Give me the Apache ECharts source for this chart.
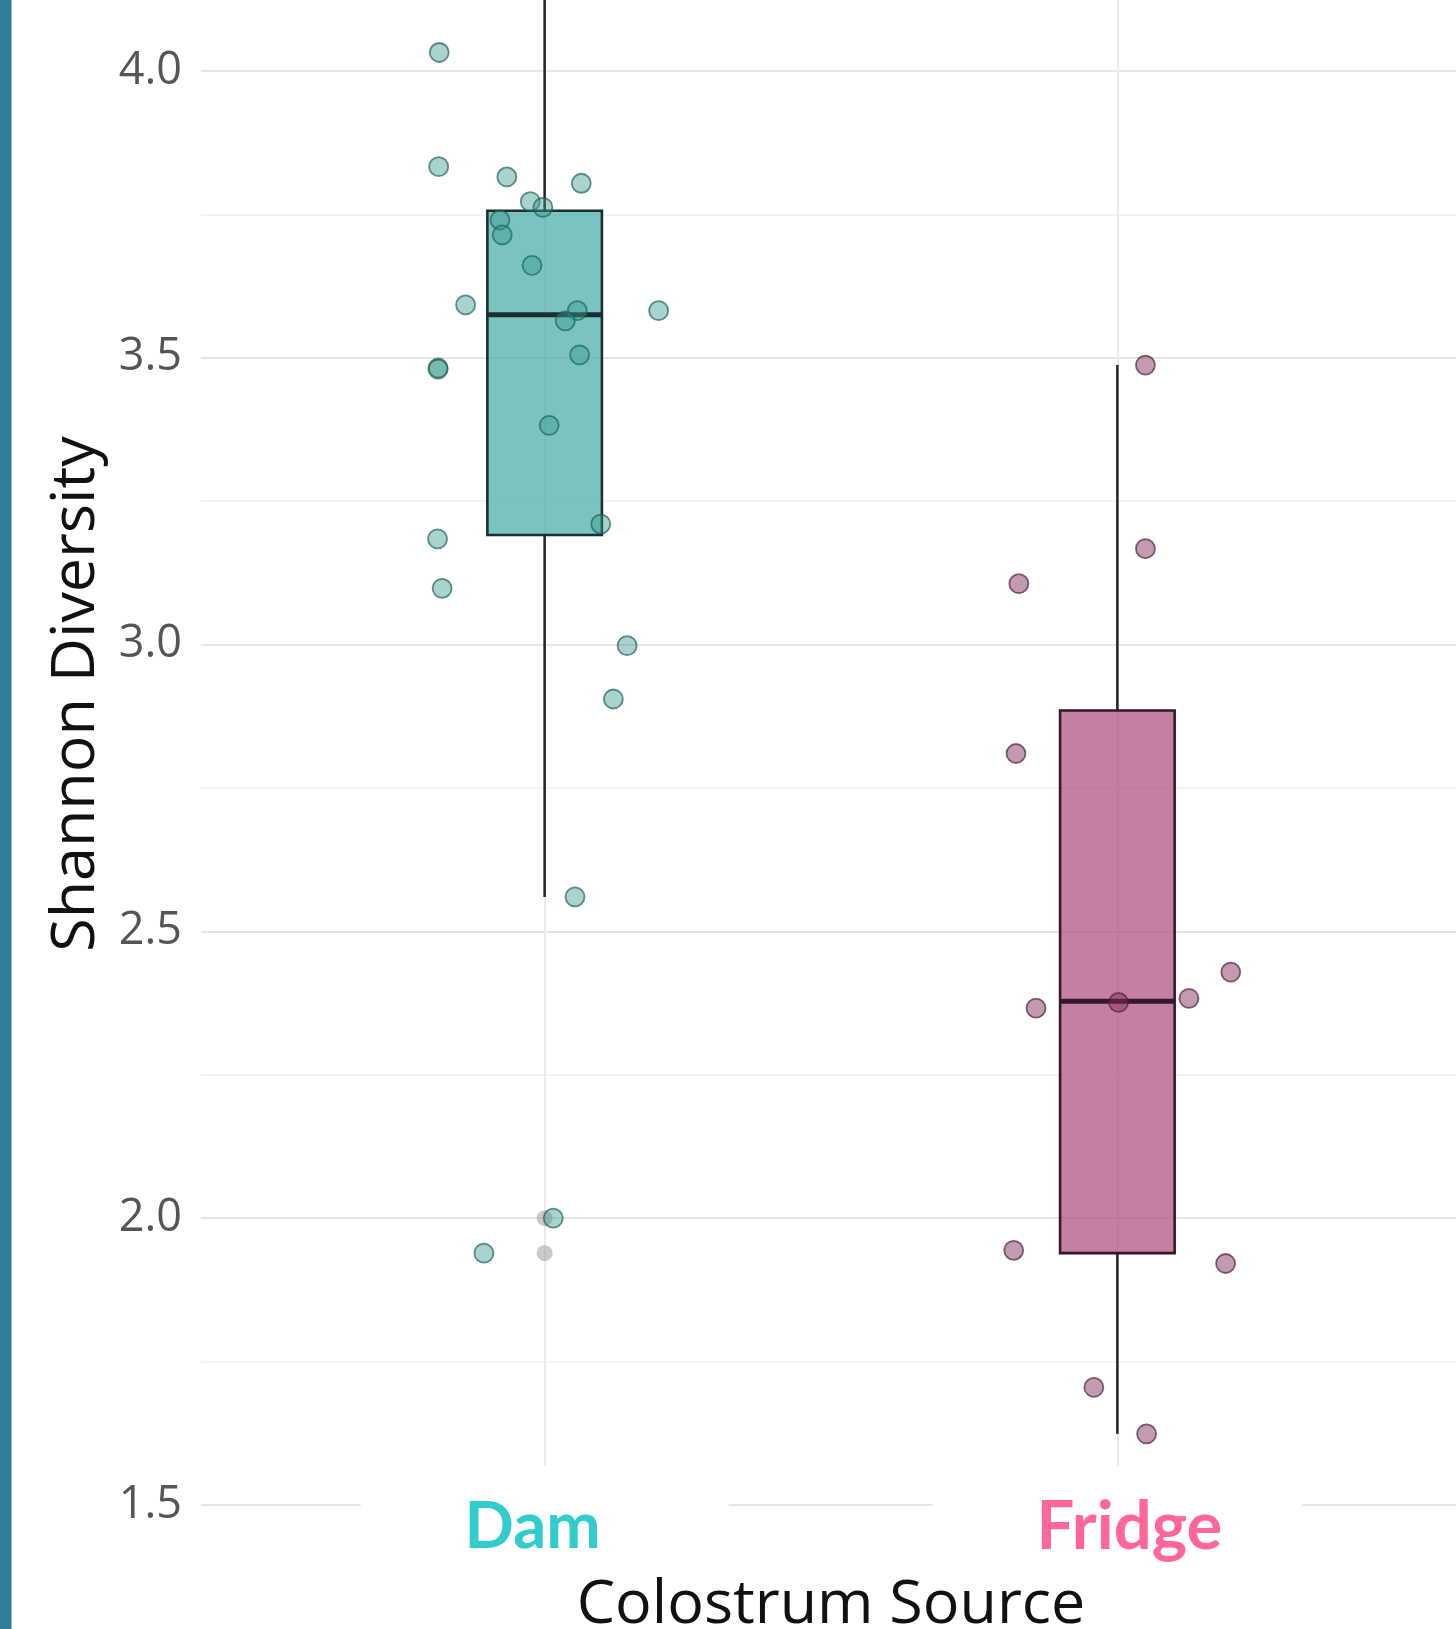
<!DOCTYPE html>
<html>
<head>
<meta charset="utf-8">
<script src="https://cdn.jsdelivr.net/npm/echarts@6/dist/echarts.min.js"></script>
<style>
html,body{margin:0;padding:0;background:#fff;}
#chart{width:1456px;height:1629px;}
</style>
</head>
<body>
<div id="chart"></div>
<script>
// ---- data ----
const categories = ['Dam', 'Fridge'];
const yTickLabels = ['1.5', '2.0', '2.5', '3.0', '3.5', '4.0'];
// box statistics: [lower whisker, Q1, median, Q3, upper whisker]
const damBox = [2.560, 3.191, 3.575, 3.756, 4.30];
const fridgeBox = [1.624, 1.939, 2.378, 2.885, 3.487];
// boxplot outliers (drawn at the category centre)
const damOutliers = [2.000, 1.939];
const fridgeOutliers = [];
// jittered observations
const damValues = [4.032, 3.833, 3.815, 3.804, 3.772, 3.762, 3.740, 3.714, 3.661, 3.592,
  3.582, 3.582, 3.564, 3.505, 3.482, 3.480, 3.382, 3.210, 3.184, 3.098, 2.998, 2.905,
  2.560, 2.000, 1.939];
const damJitter = [-0.184, -0.185, -0.066, 0.064, -0.025, -0.003, -0.078, -0.074, -0.022, -0.138,
  0.199, 0.057, 0.036, 0.061, -0.186, -0.186, 0.008, 0.098, -0.187, -0.179, 0.144, 0.120,
  0.053, 0.015, -0.106];
const fridgeValues = [3.487, 3.167, 3.106, 2.810, 2.429, 2.383, 2.376, 2.366, 1.944, 1.921, 1.705, 1.624];
const fridgeJitter = [0.049, 0.049, -0.172, -0.177, 0.198, 0.125, 0.002, -0.142, -0.181, 0.189, -0.041, 0.051];

// ---- styles ----
const BOX_W = 0.2;
const boxFill = ['rgba(78,176,171,0.75)', 'rgba(176,86,134,0.75)'];
const boxEdge = ['#1b2f2f', '#35172a'];
const ptFill = ['rgba(58,154,143,0.55)', 'rgba(130,45,90,0.6)'];
const ptEdge = ['rgba(30,95,88,0.85)', 'rgba(80,30,58,0.85)'];
const labelColors = ['#33cccc', '#ff6699'];

const boxData = [damBox, fridgeBox].map((s, i) => [i].concat(s));
const outlierData = [];
damOutliers.forEach(v => outlierData.push([0, v]));
fridgeOutliers.forEach(v => outlierData.push([1, v]));

const chart = echarts.init(document.getElementById('chart'), null, {renderer: 'canvas'});

const option = {
  backgroundColor: '#ffffff',
  animation: false,
  grid: {left: 201, right: -5, top: -216, bottom: 124, containLabel: false, outerBoundsMode: 'none'},
  graphic: [
    {type: 'rect', left: 0, top: 0, shape: {width: 11, height: 1629}, style: {fill: '#2f7f98'}, z: 100},
    {type: 'rect', left: 11, top: 0, shape: {width: 1, height: 1629}, style: {fill: '#9cc4d1'}, z: 100}
  ],
  xAxis: {
    type: 'value',
    min: -0.6,
    max: 1.6,
    name: 'Colostrum Source',
    nameLocation: 'middle',
    nameGap: 67,
    nameTextStyle: {fontFamily: 'Open Sans', fontSize: 61, color: '#111'},
    axisLine: {show: false},
    axisTick: {show: false, customValues: [0, 1]},
    splitLine: {show: true, lineStyle: {color: '#ebebeb', width: 2}},
    axisLabel: {
      customValues: [0, 1],
      margin: -39,
      formatter: function (v) {
        const i = Math.round(v);
        return '{c' + i + '|' + categories[i] + '}';
      },
      rich: {
        c0: {color: labelColors[0], fontFamily: 'Lato', fontWeight: 'bold', fontSize: 65,
             width: 344, height: 86, align: 'center', backgroundColor: '#ffffff', padding: [18, 24, 0, 0]},
        c1: {color: labelColors[1], fontFamily: 'Lato', fontWeight: 'bold', fontSize: 67,
             width: 345, height: 86, align: 'center', backgroundColor: '#ffffff', padding: [18, 0, 0, 24]}
      }
    }
  },
  yAxis: {
    type: 'value',
    min: 1.5,
    max: 4.5,
    interval: 0.25,
    name: 'Shannon Diversity',
    nameLocation: 'middle',
    nameGap: 94,
    nameTextStyle: {fontFamily: 'Open Sans', fontSize: 61, color: '#111', padding: [0, 99, 0, 0]},
    axisLine: {show: false},
    axisTick: {show: false},
    axisLabel: {
      margin: 19,
      fontFamily: 'Open Sans',
      fontSize: 45,
      color: '#555555',
      formatter: function (v) {
        const s = v.toFixed(1);
        return (yTickLabels.indexOf(s) >= 0 && Math.abs(v - parseFloat(s)) < 1e-6) ? s : '';
      }
    },
    splitLine: {show: true, lineStyle: {color: ['#e6e6e6', '#f3f3f3'], width: 2}}
  },
  series: [
    {
      type: 'custom',
      z: 2,
      data: boxData,
      encode: {x: 0, y: [1, 2, 3, 4, 5]},
      renderItem: function (params, api) {
        const i = params.dataIndex;
        const x = api.value(0);
        const pLow = api.coord([x, api.value(1)]);
        const pQ1 = api.coord([x, api.value(2)]);
        const pMed = api.coord([x, api.value(3)]);
        const pQ3 = api.coord([x, api.value(4)]);
        const pHigh = api.coord([x, api.value(5)]);
        const half = api.size([BOX_W, 0])[0] / 2;
        const cx = pMed[0];
        return {
          type: 'group',
          children: [
            {type: 'line', shape: {x1: cx, y1: pQ3[1], x2: cx, y2: pHigh[1]},
             style: {stroke: '#2a2a2a', lineWidth: 2.6}},
            {type: 'line', shape: {x1: cx, y1: pQ1[1], x2: cx, y2: pLow[1]},
             style: {stroke: '#2a2a2a', lineWidth: 2.6}},
            {type: 'rect', shape: {x: cx - half, y: pQ3[1], width: half * 2, height: pQ1[1] - pQ3[1]},
             style: {fill: boxFill[i], stroke: boxEdge[i], lineWidth: 2.6}},
            {type: 'line', shape: {x1: cx - half, y1: pMed[1], x2: cx + half, y2: pMed[1]},
             style: {stroke: boxEdge[i], lineWidth: 5}}
          ]
        };
      }
    },
    {
      type: 'scatter',
      z: 3,
      data: outlierData,
      symbolSize: 16,
      itemStyle: {color: 'rgba(160,160,160,0.7)'}
    },
    {
      type: 'scatter',
      z: 4,
      data: damValues.map((v, k) => [0 + damJitter[k], v]),
      symbolSize: 19,
      itemStyle: {color: ptFill[0], borderColor: ptEdge[0], borderWidth: 1.8}
    },
    {
      type: 'scatter',
      z: 4,
      data: fridgeValues.map((v, k) => [1 + fridgeJitter[k], v]),
      symbolSize: 19,
      itemStyle: {color: ptFill[1], borderColor: ptEdge[1], borderWidth: 1.8}
    }
  ]
};
chart.setOption(option);
</script>
</body>
</html>
